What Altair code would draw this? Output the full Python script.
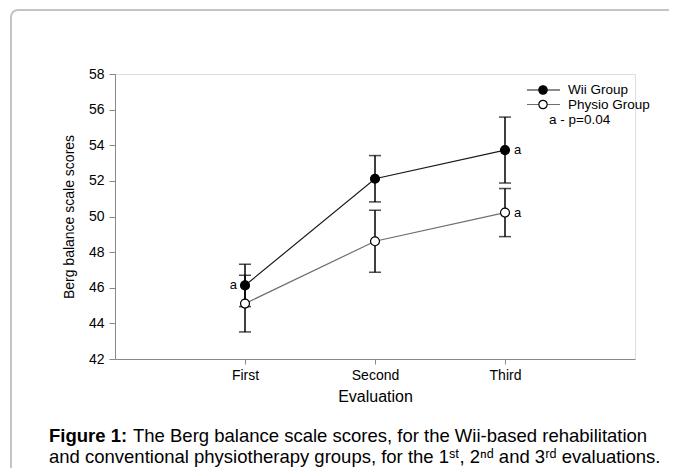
import altair as alt
import pandas as pd

# ---- data ----
evaluations = ["First", "Second", "Third"]
groups = ["Wii Group", "Physio Group"]
wii_mean = [46.13, 52.12, 53.73]
wii_err = [1.19, 1.30, 1.85]
physio_mean = [45.11, 48.61, 50.22]
physio_err = [1.59, 1.74, 1.35]
wii_sig = ["a", "", "a"]
physio_sig = ["", "", "a"]
wii_sig_side = ["left", "", "right"]
physio_sig_side = ["", "", "right"]
y_ticks = [42, 44, 46, 48, 50, 52, 54, 56, 58]
sig_note = "a - p=0.04"
x_title = "Evaluation"
y_title = "Berg balance scale scores"
caption_bold = "Figure 1:"
caption_1 = "The Berg balance scale scores, for the Wii-based rehabilitation"
caption_2 = "and conventional physiotherapy groups, for the 1ˢᵗ, 2ⁿᵈ and 3ʳᵈ evaluations."

rows = []
for g, means, errs, sigs, sides in [
    (groups[0], wii_mean, wii_err, wii_sig, wii_sig_side),
    (groups[1], physio_mean, physio_err, physio_sig, physio_sig_side),
]:
    for e, m, s, sg, sd in zip(evaluations, means, errs, sigs, sides):
        rows.append({"group": g, "eval": e, "mean": m, "lo": m - s, "hi": m + s,
                     "sig": sg, "side": sd})
df = pd.DataFrame(rows)

FONT = "Liberation Sans"
one = pd.DataFrame({"k": [0]})

x_axis = alt.Axis(title=x_title, labelAngle=0, tickSize=5, labelPadding=4, grid=False,
                  labelFontSize=14, titleFontSize=16, titlePadding=6,
                  titleFontWeight="normal")
y_axis = alt.Axis(title=y_title, values=y_ticks, tickSize=6, labelPadding=5, grid=False,
                  labelFontSize=14, titleFontSize=14, titlePadding=12,
                  titleFontWeight="normal", labelOverlap=False)
x_scale = alt.Scale(type="point", padding=1)
y_scale = alt.Scale(domain=[42, 58], nice=False, zero=False)


def X():
    return alt.X("eval:N", sort=evaluations, scale=x_scale, axis=x_axis)


def Y(field):
    return alt.Y(f"{field}:Q", scale=y_scale, axis=y_axis)


base = alt.Chart(df)

border = alt.Chart(one).mark_rect(cornerRadius=7, fill="transparent", stroke="#c4c4c4",
                                  strokeWidth=2).encode(
    x=alt.value(-104), x2=alt.value(700), y=alt.value(-64), y2=alt.value(520))

lines = base.mark_line(strokeWidth=1.2).encode(
    x=X(), y=Y("mean"),
    color=alt.Color("group:N", scale=alt.Scale(domain=groups, range=["#1a1a1a", "#6e6e6e"]),
                    legend=None),
    detail="group:N")

bars = base.mark_rule(color="black", strokeWidth=1.5).encode(
    x=X(), y=Y("lo"), y2="hi:Q")
caps_lo = base.mark_tick(orient="horizontal", size=12, thickness=1.5, color="black").encode(
    x=X(), y=Y("lo"))
caps_hi = base.mark_tick(orient="horizontal", size=12, thickness=1.5, color="black").encode(
    x=X(), y=Y("hi"))

points = base.mark_point(filled=True, size=80, stroke="black", strokeWidth=1.2,
                         opacity=1).encode(
    x=X(), y=Y("mean"),
    fill=alt.Fill("group:N", scale=alt.Scale(domain=groups, range=["black", "white"]),
                  legend=None))

sig_left = base.transform_filter(alt.datum.side == "left").mark_text(
    align="right", baseline="middle", dx=-8, font=FONT, fontSize=13, color="black").encode(
    x=X(), y=Y("mean"), text="sig:N")
sig_right = base.transform_filter(alt.datum.side == "right").mark_text(
    align="left", baseline="middle", dx=9, font=FONT, fontSize=13, color="black").encode(
    x=X(), y=Y("mean"), text="sig:N")


# ---- manual legend ----
def leg_line(yv, color):
    return alt.Chart(one).mark_rule(color=color, strokeWidth=1.2).encode(
        x=alt.value(412), x2=alt.value(445), y=alt.value(yv))


def leg_pt(yv, fill):
    return alt.Chart(one).mark_point(filled=True, fill=fill, stroke="black", strokeWidth=1.2,
                                     size=70, opacity=1).encode(
        x=alt.value(428), y=alt.value(yv))


def leg_txt(xv, yv, txt):
    return alt.Chart(one).mark_text(align="left", baseline="middle", font=FONT,
                                    fontSize=13.5, color="black", text=txt).encode(
        x=alt.value(xv), y=alt.value(yv))


legend = [
    leg_line(16, "#1a1a1a"), leg_pt(16, "black"), leg_txt(453, 16, groups[0]),
    leg_line(30.5, "#6e6e6e"), leg_pt(30.5, "white"), leg_txt(453, 30.5, groups[1]),
    leg_txt(434, 46, sig_note),
]


def cap_txt(xv, yv, txt, weight="normal"):
    return alt.Chart(one).mark_text(align="left", baseline="middle", font=FONT,
                                    fontSize=18.5, fontWeight=weight, color="black",
                                    text=txt).encode(x=alt.value(xv), y=alt.value(yv))


caption = [
    cap_txt(-66, 362, caption_bold, "bold"),
    cap_txt(18, 362, caption_1),
    cap_txt(-66, 383, caption_2),
]

chart = alt.layer(border, lines, bars, caps_lo, caps_hi, points, sig_left, sig_right,
                  *legend, *caption).properties(
    width=520, height=285,
    padding={"left": 107, "top": 66, "right": 34, "bottom": 109},
    autosize=alt.AutoSizeParams(type="none"),
).configure_view(stroke=None).configure_axis(
    domainColor="black", tickColor="black", labelColor="black", titleColor="black",
    labelFont=FONT, titleFont=FONT, grid=False, domainWidth=1.2, tickWidth=1.2
).configure(background="white")

chart.save("out.html", embed_options={"renderer": "svg", "actions": False})
